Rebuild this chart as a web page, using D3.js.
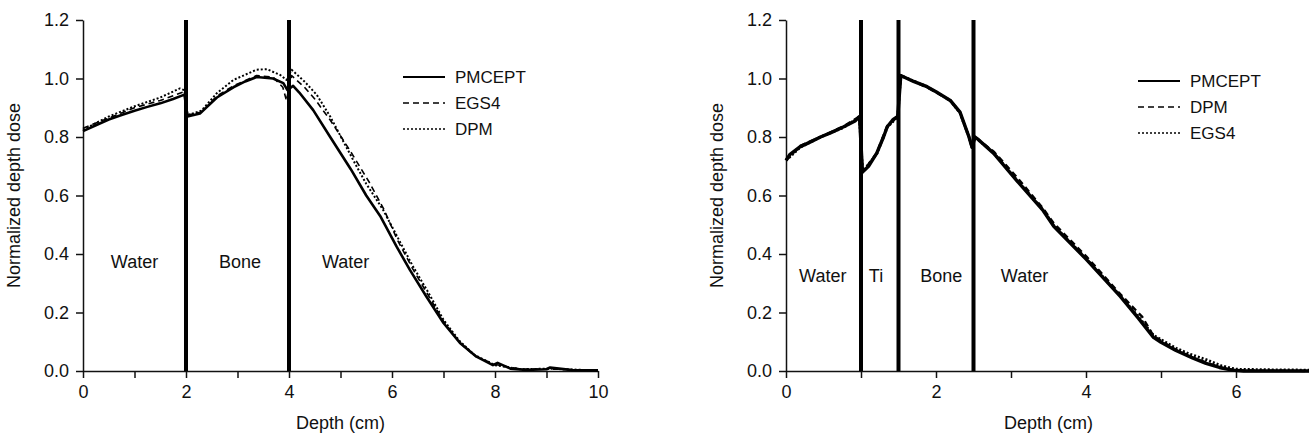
<!DOCTYPE html>
<html>
<head>
<meta charset="utf-8">
<script src="https://cdn.jsdelivr.net/npm/d3@7"></script>
<style>
  body { margin: 0; background: #fff; }
  svg text { font-family: Arial, "Liberation Sans", sans-serif; fill: #111; }
</style>
</head>
<body>
<div id="wrapper"></div>
<script>
/* global d3 */

// ---- data: [depth (cm), normalized dose] ----
// left panel: water / bone / water
const leftPmcept = [
  [0, 0.82], [0.25, 0.84], [0.5, 0.86], [0.75, 0.875], [1, 0.89], [1.25, 0.903],
  [1.5, 0.915], [1.75, 0.93], [1.97, 0.945], [2.03, 0.87], [2.27, 0.88], [2.6, 0.935],
  [2.92, 0.97], [3.15, 0.99], [3.37, 1.005], [3.69, 1.0], [3.89, 0.984], [3.97, 0.96],
  [4.08, 0.975], [4.2, 0.952], [4.47, 0.892], [4.8, 0.80], [5.2, 0.69], [5.5, 0.60],
  [5.77, 0.53], [6.09, 0.425], [6.35, 0.345], [6.67, 0.254], [7.0, 0.164], [7.32, 0.096],
  [7.64, 0.049], [7.96, 0.02], [8.05, 0.028], [8.3, 0.008], [8.6, 0.004], [9.0, 0.006],
  [9.07, 0.012], [9.5, 0.003], [10, 0.002]
]
const leftEgs4 = [
  [0, 0.83], [0.5, 0.865], [1, 0.9], [1.5, 0.925], [1.97, 0.955], [2.03, 0.875],
  [2.3, 0.885], [2.6, 0.94], [2.92, 0.975], [3.37, 1.01], [3.69, 1.005], [3.88, 0.97],
  [3.95, 0.925], [4.05, 1.01], [4.3, 0.97], [4.5, 0.93], [4.8, 0.858], [5.18, 0.755],
  [5.57, 0.642], [5.85, 0.55], [6.1, 0.45], [6.4, 0.35], [6.7, 0.26], [7.0, 0.17],
  [7.3, 0.1], [7.6, 0.052], [8.0, 0.022], [8.5, 0.006], [9.0, 0.007], [10, 0.002]
]
const leftDpm = [
  [0, 0.825], [0.5, 0.87], [1, 0.905], [1.5, 0.935], [1.88, 0.966], [1.97, 0.96],
  [2.03, 0.875], [2.3, 0.89], [2.6, 0.95], [2.92, 0.995], [3.37, 1.03], [3.57, 1.032],
  [3.83, 1.012], [3.95, 0.995], [4.05, 1.03], [4.3, 0.99], [4.54, 0.944], [4.8, 0.87],
  [5.25, 0.72], [5.5, 0.64], [5.83, 0.55], [6.1, 0.46], [6.4, 0.36], [6.7, 0.27],
  [7.0, 0.175], [7.3, 0.105], [7.6, 0.055], [8.0, 0.02], [8.5, 0.006], [9.0, 0.008],
  [10, 0.002]
]

// right panel: water / Ti / bone / water
const rightPmcept = [
  [0, 0.72], [0.05, 0.74], [0.19, 0.767], [0.3, 0.78], [0.46, 0.80], [0.6, 0.815],
  [0.77, 0.835], [0.92, 0.855], [0.98, 0.87], [1.02, 0.68], [1.1, 0.70], [1.21, 0.745],
  [1.3, 0.80], [1.35, 0.835], [1.43, 0.86], [1.49, 0.87], [1.53, 1.01], [1.7, 0.99],
  [1.88, 0.972], [2.0, 0.955], [2.19, 0.925], [2.32, 0.885], [2.44, 0.80], [2.48, 0.765],
  [2.52, 0.80], [2.57, 0.79], [2.77, 0.744], [3.08, 0.65], [3.43, 0.548], [3.57, 0.495],
  [4.01, 0.38], [4.46, 0.254], [4.7, 0.18], [4.9, 0.115], [5.0, 0.098], [5.2, 0.07],
  [5.42, 0.045], [5.6, 0.026], [5.78, 0.012], [5.95, 0.003], [6.1, 0], [7, 0]
]
const rightDpm = [
  [0, 0.72], [0.19, 0.77], [0.46, 0.80], [0.77, 0.837], [0.98, 0.87], [1.02, 0.68],
  [1.21, 0.745], [1.35, 0.838], [1.49, 0.87], [1.53, 1.01], [1.88, 0.97], [2.19, 0.925],
  [2.32, 0.885], [2.44, 0.80], [2.48, 0.765], [2.52, 0.80], [2.77, 0.75], [3.08, 0.662],
  [3.43, 0.555], [3.57, 0.505], [4.01, 0.39], [4.46, 0.262], [4.75, 0.185], [4.9, 0.12],
  [5.2, 0.072], [5.42, 0.046], [5.78, 0.012], [6.0, 0.002], [7, 0]
]
const rightEgs4 = [
  [0, 0.72], [0.19, 0.765], [0.46, 0.80], [0.77, 0.833], [0.98, 0.868], [1.02, 0.68],
  [1.21, 0.742], [1.35, 0.833], [1.49, 0.87], [1.53, 1.01], [1.88, 0.972], [2.19, 0.925],
  [2.32, 0.882], [2.44, 0.80], [2.48, 0.765], [2.52, 0.80], [2.77, 0.745], [3.08, 0.652],
  [3.43, 0.55], [3.57, 0.497], [4.01, 0.382], [4.46, 0.256], [4.7, 0.185], [4.9, 0.122],
  [5.2, 0.078], [5.38, 0.058], [5.6, 0.039], [5.8, 0.018], [6.0, 0.006], [6.5, 0.004],
  [7, 0.003]
]

const leftInterfaces = [2, 4]
const rightInterfaces = [1, 1.5, 2.5]
const leftRegions = [["Water", 1.0], ["Bone", 3.05], ["Water", 5.1]]
const rightRegions = [["Water", 0.49], ["Ti", 1.2], ["Bone", 2.07], ["Water", 3.18]]
const leftLegend = ["PMCEPT", "EGS4", "DPM"]
const rightLegend = ["PMCEPT", "DPM", "EGS4"]
const yTicks = [0, 0.2, 0.4, 0.6, 0.8, 1.0, 1.2]

// line look by legend row: solid, dashed, dotted
const rowStyles = [
  { dash: null, width: 2.6, legendWidth: 2 },
  { dash: "6,4", width: 1.6, legendWidth: 1.5 },
  { dash: "2,2", width: 2, legendWidth: 1.5 },
]

const wrapper = d3.select("#wrapper")
  .append("svg")
    .attr("width", 1309)
    .attr("height", 439)

function drawPanel(opts) {
  const xScale = d3.scaleLinear()
    .domain([0, opts.xMax])
    .range([opts.left, opts.right])
  const yScale = d3.scaleLinear()
    .domain([0, 1.2])
    .range([371, 20])

  const g = wrapper.append("g")

  // axes
  const xAxisGenerator = d3.axisBottom(xScale)
    .tickValues(d3.range(0, opts.xMax + 1))
    .tickFormat(d => d % 2 === 0 ? d : "")
    .tickSize(7)
    .tickSizeOuter(0)
    .tickPadding(7)
  g.append("g")
    .attr("transform", `translate(0, ${yScale(0)})`)
    .call(xAxisGenerator)

  const yAxisGenerator = d3.axisLeft(yScale)
    .tickValues(yTicks)
    .tickFormat(d3.format(".1f"))
    .tickSize(7)
    .tickSizeOuter(0)
    .tickPadding(7)
  g.append("g")
    .attr("transform", `translate(${opts.left}, 0)`)
    .call(yAxisGenerator)

  g.selectAll(".domain, .tick line")
    .attr("stroke", "#111")
    .attr("stroke-width", 1.5)
  g.selectAll(".tick text")
    .style("font-size", "18px")
    .attr("fill", "#111")

  // interface walls
  g.selectAll(".wall")
    .data(opts.interfaces)
    .join("line")
      .attr("x1", d => xScale(d))
      .attr("x2", d => xScale(d))
      .attr("y1", yScale(0))
      .attr("y2", yScale(1.2))
      .attr("stroke", "#000")
      .attr("stroke-width", 4)

  // curves, drawn back to front
  const lineGenerator = d3.line()
    .x(d => xScale(d[0]))
    .y(d => yScale(d[1]))

  const order = [2, 1, 0]
  order.forEach(i => {
    const st = rowStyles[i]
    g.append("path")
      .attr("d", lineGenerator(opts.series[i]))
      .attr("fill", "none")
      .attr("stroke", "#000")
      .attr("stroke-width", st.width + opts.extraWidth)
      .attr("stroke-dasharray", st.dash)
      .attr("stroke-linejoin", "round")
  })

  // region labels
  g.selectAll(".region")
    .data(opts.regions)
    .join("text")
      .attr("x", d => xScale(d[1]))
      .attr("y", opts.regionY)
      .attr("dy", "0.35em")
      .attr("text-anchor", "middle")
      .style("font-size", "18px")
      .text(d => d[0])

  // legend
  opts.legend.forEach((name, i) => {
    const st = rowStyles[i]
    const y = opts.legendY + i * 26
    g.append("line")
      .attr("x1", opts.legendX)
      .attr("x2", opts.legendX + 42)
      .attr("y1", y)
      .attr("y2", y)
      .attr("stroke", "#000")
      .attr("stroke-width", st.legendWidth)
      .attr("stroke-dasharray", st.dash)
    g.append("text")
      .attr("x", opts.legendX + 52)
      .attr("y", y)
      .attr("dy", "0.35em")
      .style("font-size", "17px")
      .text(name)
  })

  // axis titles
  g.append("text")
    .attr("x", (opts.left + xScale(Math.min(opts.xMax, 10))) / 2)
    .attr("y", 429)
    .attr("text-anchor", "middle")
    .style("font-size", "18px")
    .text("Depth (cm)")

  g.append("text")
    .attr("transform", `translate(${opts.left - 63}, ${yScale(0.6)}) rotate(-90)`)
    .attr("text-anchor", "middle")
    .style("font-size", "18px")
    .text("Normalized depth dose")
}

drawPanel({
  left: 83, right: 598, xMax: 10,
  interfaces: leftInterfaces,
  series: [leftPmcept, leftEgs4, leftDpm],
  regions: leftRegions, regionY: 262,
  legend: leftLegend, legendX: 403, legendY: 77,
  extraWidth: 0,
})

drawPanel({
  left: 786, right: 1311, xMax: 7,
  interfaces: rightInterfaces,
  series: [rightPmcept, rightDpm, rightEgs4],
  regions: rightRegions, regionY: 276,
  legend: rightLegend, legendX: 1138, legendY: 81,
  extraWidth: 0.8,
})
</script>
</body>
</html>
